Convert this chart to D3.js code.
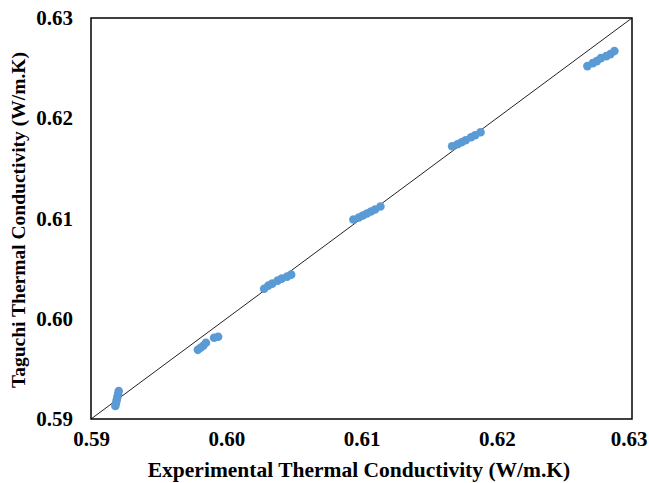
<!DOCTYPE html>
<html><head><meta charset="utf-8">
<script src="https://cdn.jsdelivr.net/npm/d3@7"></script>
<style>body{margin:0;background:#fff}svg{display:block}</style>
</head><body>
<script>
const expX = [0.5918,0.59185,0.5919,0.59195,0.5920,0.59205,
  0.5979,0.5981,0.5983,0.5985,0.5991,0.5994,
  0.6028,0.6031,0.6034,0.6038,0.6041,0.6045,0.6048,
  0.6094,0.6098,0.6101,0.6104,0.6107,0.6110,0.6114,
  0.6167,0.6171,0.6174,0.6177,0.6181,0.6184,0.6188,
  0.6267,0.6271,0.6274,0.6277,0.6281,0.6284,0.6287];
const taguchiY = [0.5913,0.5916,0.5919,0.5922,0.5925,0.5928,
  0.5969,0.5971,0.5973,0.5976,0.5981,0.5982,
  0.6030,0.6033,0.6035,0.6038,0.6040,0.6042,0.6044,
  0.6099,0.6101,0.6103,0.6105,0.6107,0.6109,0.6112,
  0.6172,0.6174,0.6176,0.6178,0.6181,0.6183,0.6186,
  0.6252,0.6255,0.6257,0.6260,0.6262,0.6264,0.6267];
const ticks = [0.59,0.60,0.61,0.62,0.63];
const xTitle = "Experimental Thermal Conductivity (W/m.K)";
const yTitle = "Taguchi Thermal Conductivity (W/m.K)";

const W=649,H=483;
const m={l:91,r:17,t:18,b:64};
const svg=d3.select("body").append("svg").attr("width",W).attr("height",H);
const x=d3.scaleLinear().domain([0.59,0.63]).range([m.l,W-m.r]);
const y=d3.scaleLinear().domain([0.59,0.63]).range([H-m.b,m.t]);
const font="'Liberation Serif','Times New Roman',serif";

// diagonal line
svg.append("line").attr("x1",x(0.59)).attr("y1",y(0.59)).attr("x2",x(0.63)).attr("y2",y(0.63))
  .attr("stroke","#222").attr("stroke-width",1);

// points
svg.append("g").selectAll("circle").data(expX).join("circle")
  .attr("cx",d=>x(d)).attr("cy",(d,i)=>y(taguchiY[i])).attr("r",4.3)
  .attr("fill","#5B9BD5");

// frame
svg.append("rect").attr("x",x(0.59)).attr("y",y(0.63)).attr("width",x(0.63)-x(0.59)).attr("height",y(0.59)-y(0.63))
  .attr("fill","none").attr("stroke","#000").attr("stroke-width",1.5);

// axes
const xa=svg.append("g").attr("transform",`translate(0,${y(0.59)})`)
  .call(d3.axisBottom(x).tickValues(ticks).tickFormat(d3.format(".2f")).tickSize(0).tickPadding(12));
const ya=svg.append("g").attr("transform",`translate(${x(0.59)},0)`)
  .call(d3.axisLeft(y).tickValues(ticks).tickFormat(d3.format(".2f")).tickSize(0).tickPadding(18));
[xa,ya].forEach(g=>{g.select(".domain").remove();
  g.selectAll("text").attr("font-family",font).attr("font-weight","bold").attr("font-size",21).attr("fill","#000");});
xa.selectAll("text").filter(d=>d===0.63).attr("text-anchor","end").attr("dx",(W-2-x(0.63))+"px");

svg.append("text").attr("x",359).attr("y",477).attr("text-anchor","middle")
  .attr("font-family",font).attr("font-weight","bold").attr("font-size",21.5).text(xTitle);
svg.append("text").attr("transform",`translate(25,220) rotate(-90)`).attr("text-anchor","middle")
  .attr("font-family",font).attr("font-weight","bold").attr("font-size",19.5).text(yTitle);
</script>
</body></html>
